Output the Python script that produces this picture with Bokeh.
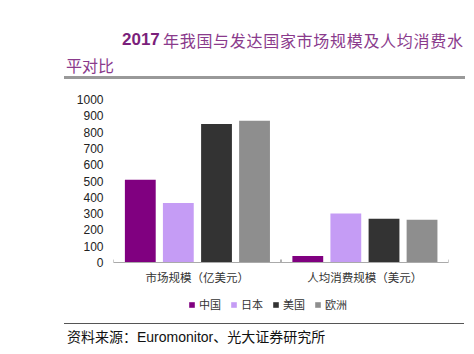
from bokeh.plotting import figure
from bokeh.layouts import column
from bokeh.models import (ColumnDataSource, FactorRange, Range1d, FixedTicker,
                          Legend, LegendItem, Div)
from bokeh.transform import dodge
from bokeh.embed import file_html
from bokeh.resources import INLINE

# ---- data ----
categories = ["市场规模（亿美元）", "人均消费规模（美元）"]
series_names = ["中国", "日本", "美国", "欧洲"]
china = [508, 40]
japan = [365, 300]
usa = [850, 268]
europe = [870, 262]
y_ticks = [0, 100, 200, 300, 400, 500, 600, 700, 800, 900, 1000]
colors = ["#800080", "#C59CF5", "#333333", "#8E8E8E"]

title_year = "2017"
title_rest = "年我国与发达国家市场规模及人均消费水"
title_line2 = "平对比"
footer_cn1 = "资料来源："
footer_en = "Euromonitor"
footer_cn2 = "、光大证券研究所"

CJK = "Noto Sans CJK SC"

# ---- title (HTML) ----
title_html = (
    '<div style="position:relative;width:474px;height:80px;margin:0;padding:0;">'
    f'<span style="position:absolute;left:122px;top:31px;font-family:\'Liberation Sans\';'
    f'font-weight:bold;font-size:17px;line-height:17px;color:#7B1F7B;">{title_year}</span>'
    f'<span style="position:absolute;left:163px;top:31px;font-family:\'{CJK}\';'
    f'font-size:16px;line-height:18px;letter-spacing:0.7px;color:#8A3A8C;white-space:nowrap;">{title_rest}</span>'
    f'<span style="position:absolute;left:66px;top:56px;font-family:\'{CJK}\';'
    f'font-size:16px;line-height:18px;color:#8A3A8C;white-space:nowrap;">{title_line2}</span>'
    '<div style="position:absolute;left:64px;top:76px;width:401px;height:2.5px;background:#999999;"></div>'
    '</div>'
)
title_div = Div(text=title_html, width=474, height=80, margin=0,
                styles={"padding": "0", "margin": "0"})

# ---- chart ----
source = ColumnDataSource(dict(cat=categories, 中国=china, 日本=japan, 美国=usa, 欧洲=europe,
                               base=[0] * len(categories), tick=[18] * len(categories)))

x_range = FactorRange(factors=categories, range_padding=0, factor_padding=0)
p = figure(width=474, height=210, output_backend="svg", toolbar_location=None,
           x_range=x_range, y_range=Range1d(0, 1000), margin=0,
           min_border_left=113, min_border_right=26, min_border_top=19, min_border_bottom=28)
p.title = None
p.outline_line_color = None
p.xgrid.visible = False
p.ygrid.visible = False
p.background_fill_color = "white"
p.border_fill_alpha = 0

offsets = [-0.34, -0.113, 0.115, 0.342]
for name, off, col in zip(series_names, offsets, colors):
    p.vbar(x=dodge("cat", off, range=x_range), top=name, width=0.184,
           source=source, fill_color=col, line_color=None)

# boundary ticks between category groups
for off in (-0.5, 0.5):
    p.segment(x0=dodge("cat", off, range=x_range), y0="base",
              x1=dodge("cat", off, range=x_range), y1="tick",
              source=source, line_color="#999999", line_width=1)

# y axis
p.yaxis.ticker = FixedTicker(ticks=y_ticks)
p.yaxis.axis_line_color = None
p.yaxis.major_tick_line_color = None
p.yaxis.minor_tick_line_color = None
p.yaxis.major_tick_out = 0
p.yaxis.major_label_standoff = 10
p.yaxis.major_label_text_font = "Liberation Sans"
p.yaxis.major_label_text_font_size = "12px"
p.yaxis.major_label_text_color = "#222222"

# x axis
p.xaxis.major_tick_line_color = None
p.xaxis.major_tick_out = 0
p.xaxis.axis_line_color = "#AAAAAA"
p.xaxis.major_label_standoff = 6
p.xaxis.major_label_text_font = CJK
p.xaxis.major_label_text_font_size = "11.5px"
p.xaxis.major_label_text_color = "#333333"

# ---- legend strip ----
lg = figure(width=474, height=28, output_backend="svg", toolbar_location=None,
            x_range=Range1d(0, 1), y_range=Range1d(0, 1), margin=0, min_border=0,
            x_axis_location=None, y_axis_location=None)
lg.outline_line_color = None
lg.xgrid.visible = False
lg.ygrid.visible = False
lg.border_fill_alpha = 0
lg.background_fill_alpha = 0
items = []
for name, col in zip(series_names, colors):
    # off-range placeholder renderer that only supplies the legend swatch
    r = lg.vbar(x=[-5], top=[0], width=0.1, fill_color=col, line_color=None)
    items.append(LegendItem(label=name, renderers=[r]))
legend = Legend(items=items, orientation="horizontal", location=(75, 6),
                glyph_width=7, glyph_height=7, label_standoff=4, spacing=9,
                label_text_font=CJK, label_text_font_size="11px",
                label_text_color="#333333", label_height=12,
                padding=0, margin=0, border_line_color=None, background_fill_alpha=0)
lg.add_layout(legend, "center")

# ---- footer (HTML) ----
footer_html = (
    '<div style="position:relative;width:474px;height:36px;margin:0;padding:0;">'
    '<div style="position:absolute;left:64px;top:4.5px;width:400px;height:1.5px;background:#555555;"></div>'
    f'<span style="position:absolute;left:67px;top:10px;font-size:14px;line-height:16px;'
    f'color:#111111;white-space:nowrap;">'
    f'<span style="font-family:\'{CJK}\';">{footer_cn1}</span>'
    f'<span style="font-family:\'Liberation Sans\';">{footer_en}</span>'
    f'<span style="font-family:\'{CJK}\';">{footer_cn2}</span></span>'
    '</div>'
)
footer_div = Div(text=footer_html, width=474, height=36, margin=0,
                 styles={"padding": "0", "margin": "0"})

layout = column(title_div, p, lg, footer_div, spacing=0, margin=0)

open("out.html", "w").write(file_html(layout, INLINE))
